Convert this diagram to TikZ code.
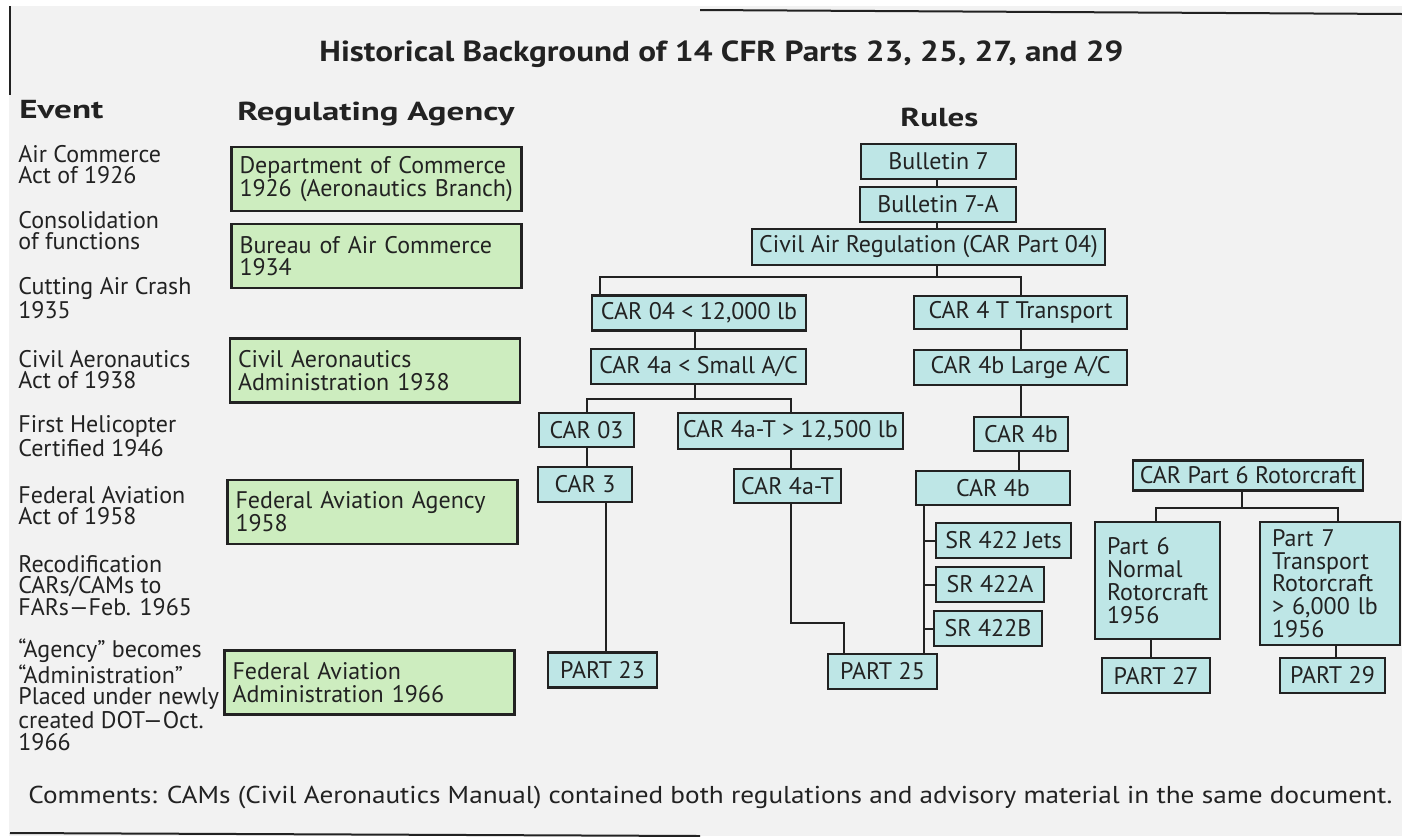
\documentclass[tikz,border=0pt]{standalone}
\usepackage{fontspec}
\usepackage{graphicx}
\setmainfont{PT Sans}
\definecolor{bg}{HTML}{F2F2F2}
\definecolor{gfill}{HTML}{CDEDBF}
\definecolor{bfill}{HTML}{BEE6E6}
\definecolor{ink}{HTML}{222222}
\newcommand\boxfont{\fontsize{12}{11.4}\selectfont}
\newcommand\evtfont{\fontsize{12}{10.75}\selectfont}
\newcommand\fitw[2]{\resizebox{#1}{\height}{#2}}
\begin{document}
\begin{tikzpicture}[x=0.5pt,y=-0.5pt,
  gbox/.style={draw=ink, line width=1.3pt, fill=gfill, inner xsep=4pt, inner ysep=0pt,
    text width=137pt, minimum height=32pt, align=left, font=\boxfont, text=ink},
  bbox/.style={draw=ink, line width=1.3pt, fill=bfill, inner sep=0pt, minimum height=17.5pt,
    font=\boxfont, text=ink},
  mbox/.style={bbox, inner xsep=6pt, align=left},
  conn/.style={draw=ink, line width=1pt},
  evt/.style={font=\evtfont, align=left, inner sep=0pt, anchor=base west, text=ink},
  hdr/.style={font=\bfseries\fontsize{13}{15}\selectfont, inner sep=0pt, text=ink}]
\useasboundingbox (0,0) rectangle (1402,836);
\fill[white] (0,0) rectangle (1402,836);
\fill[bg] (9,6) rectangle (1402,836);
\draw[ink, line width=1pt] (10,6) -- (10,95);
\draw[ink, line width=1pt] (700,10) -- (1402,14);
\draw[ink, line width=1pt] (10,833) -- (700,836);

% headings
\node[font=\bfseries\fontsize{14.5}{16}\selectfont, anchor=base west, inner sep=0pt, text=ink] (title) at (319,61) {\fitw{402pt}{Historical Background of 14 CFR Parts 23, 25, 27, and 29}};
\node[hdr, anchor=base west] (hev) at (19,118) {\fitw{42pt}{Event}};
\node[hdr, anchor=base west] (hag) at (237,120) {\fitw{138.5pt}{Regulating Agency}};
\node[hdr, anchor=base west] (hru) at (900,126) {\fitw{39pt}{Rules}};

% events (anchor = baseline of last line)
\node[evt] (e1) at (18,183.5) {Air Commerce\\Act of 1926};
\node[evt] (e2) at (18,249.5) {Consolidation\\of functions};
\node[evt] (e3) at (18,318.5) {Cutting Air Crash\\1935};
\node[evt] (e4) at (18,388.5) {Civil Aeronautics\\Act of 1938};
\node[evt] (e5) at (18,456.5) {First Helicopter\\Certified 1946};
\node[evt] (e6) at (18,524.5) {Federal Aviation\\Act of 1958};
\node[evt] (e7) at (18,615) {Recodification\\CARs/CAMs to\\FARs—Feb. 1965};
\node[evt] (e8) at (18,750) {“Agency” becomes\\“Administration”\\Placed under newly\\created DOT—Oct.\\1966};

% agencies
\node[gbox] (g1) at (376.5,179) {Department of Commerce\\1926 (Aeronautics Branch)};
\node[gbox] (g2) at (376.5,256) {Bureau of Air Commerce\\1934};
\node[gbox] (g3) at (375,370.5) {Civil Aeronautics\\Administration 1938};
\node[gbox] (g4) at (372.5,512) {Federal Aviation Agency\\1958};
\node[gbox] (g5) at (369.5,682.5) {Federal Aviation\\Administration 1966};

% rules
\node[bbox, minimum width=77.5pt] (b7) at (938.5,161.5) {Bulletin 7};
\node[bbox, minimum width=78pt] (b7a) at (938,204.5) {Bulletin 7-A};
\node[bbox, minimum width=176.5pt, minimum height=18pt] (car04) at (928.5,247) {Civil Air Regulation (CAR Part 04)};
\node[bbox, minimum width=107pt] (c04) at (699,313) {CAR 04 < 12,000 lb};
\node[bbox, minimum width=106.5pt, minimum height=16.5pt] (c4t) at (1020.5,312.5) {CAR 4 T Transport};
\node[bbox, minimum width=107.5pt] (c4a) at (698.5,366.5) {CAR 4a < Small A/C};
\node[bbox, minimum width=106.5pt] (c4bl) at (1020.5,367.5) {CAR 4b Large A/C};
\node[bbox, minimum width=47.5pt, minimum height=17pt] (car03) at (586.5,430) {CAR 03};
\node[bbox, minimum width=112.5pt, minimum height=18pt] (c4at12) at (790.5,431) {CAR 4a-T > 12,500 lb};
\node[bbox, minimum width=47pt, minimum height=17pt] (c4b1) at (1021,434) {CAR 4b};
\node[bbox, minimum width=47pt] (car3) at (585,484.5) {CAR 3};
\node[bbox, minimum width=53.5pt, minimum height=17pt] (c4at) at (787.5,486) {CAR 4a-T};
\node[bbox, minimum width=77pt, minimum height=17pt] (c4b2) at (993,488) {CAR 4b};
\node[bbox, minimum width=115pt, minimum height=15pt] (cp6) at (1248,475.5) {CAR Part 6 Rotorcraft};
\node[bbox, minimum width=67.5pt] (sr1) at (1003.5,540.5) {SR 422 Jets};
\node[bbox, minimum width=54pt] (sr2) at (990,584.5) {SR 422A};
\node[bbox, minimum width=54pt] (sr3) at (988,628.5) {SR 422B};
\node[mbox, text width=50.5pt, minimum height=58.5pt] (p6) at (1157.5,580.5) {Part 6\\Normal\\Rotorcraft\\1956};
\node[mbox, text width=58pt, minimum height=61.5pt] (p7) at (1330,583.5) {Part 7\\Transport\\Rotorcraft\\> 6,000 lb\\1956};
\node[bbox, minimum width=54.5pt] (p23) at (602.5,670) {PART 23};
\node[bbox, minimum width=54.5pt] (p25) at (882.5,671.5) {PART 25};
\node[bbox, minimum width=54pt] (p27) at (1156,675.5) {PART 27};
\node[bbox, minimum width=52.5pt] (p29) at (1332.5,675.5) {PART 29};

% connectors
\coordinate (bus1) at (0,277);
\coordinate (bus2) at (0,399);
\coordinate (bus3) at (0,508);
\coordinate (x600) at (600,0);
\coordinate (x606) at (606,0);
\coordinate (x791) at (791,0);
\coordinate (x844) at (844,0);
\coordinate (y623) at (0,623);
\coordinate (x1019) at (1019,0);
\coordinate (x924) at (924,0);
\coordinate (x1242) at (1242,0);
\coordinate (x1156) at (1156,0);
\coordinate (x1338) at (1338,0);
\coordinate (x1151) at (1151,0);
\coordinate (x1336) at (1336,0);
\coordinate (x937) at (937,0);
\coordinate (x695) at (695,0);

\draw[conn] (x937 |- b7.south) -- (x937 |- b7a.north);
\draw[conn] (x937 |- b7a.south) -- (x937 |- car04.north);
\draw[conn] (x937 |- car04.south) -- (x937 |- bus1);
\draw[conn] (x600 |- c04.north) |- (c4t.north |- bus1) -- (c4t.north);
\draw[conn] (x695 |- c04.south) -- (x695 |- c4a.north);
\draw[conn] (c4t.south) -- (c4t.south |- c4bl.north);
\draw[conn] (x695 |- c4a.south) -- (x695 |- bus2);
\draw[conn] (car03.north) |- (c4at12.north |- bus2) -- (c4at12.north);
\draw[conn] (car03.south) -- (car03.south |- car3.north);
\draw[conn] (c4at12.south) -- (c4at12.south |- c4at.north);
\draw[conn] (x606 |- car3.south) -- (x606 |- p23.north);
\draw[conn] (x791 |- c4at.south) |- (x844 |- y623) -- (x844 |- p25.north);
\draw[conn] (c4bl.south) -- (c4bl.south |- c4b1.north);
\draw[conn] (x1019 |- c4b1.south) -- (x1019 |- c4b2.north);
\draw[conn] (x924 |- c4b2.south) -- (x924 |- p25.north);
\draw[conn] (x924 |- sr1.west) -- (sr1.west);
\draw[conn] (x924 |- sr2.west) -- (sr2.west);
\draw[conn] (x924 |- sr3.west) -- (sr3.west);
\draw[conn] (x1242 |- cp6.south) -- (x1242 |- bus3);
\draw[conn] (x1156 |- p6.north) |- (x1338 |- bus3) -- (x1338 |- p7.north);
\draw[conn] (x1151 |- p6.south) -- (x1151 |- p27.north);
\draw[conn] (x1336 |- p7.south) -- (x1336 |- p29.north);

% comment
\node[font=\fontsize{12.2}{14}\selectfont, anchor=base west, inner sep=0pt, text=ink] (cm) at (28,803) {\fitw{682pt}{Comments: CAMs (Civil Aeronautics Manual) contained both regulations and advisory material in the same document.}};
\end{tikzpicture}
\end{document}
